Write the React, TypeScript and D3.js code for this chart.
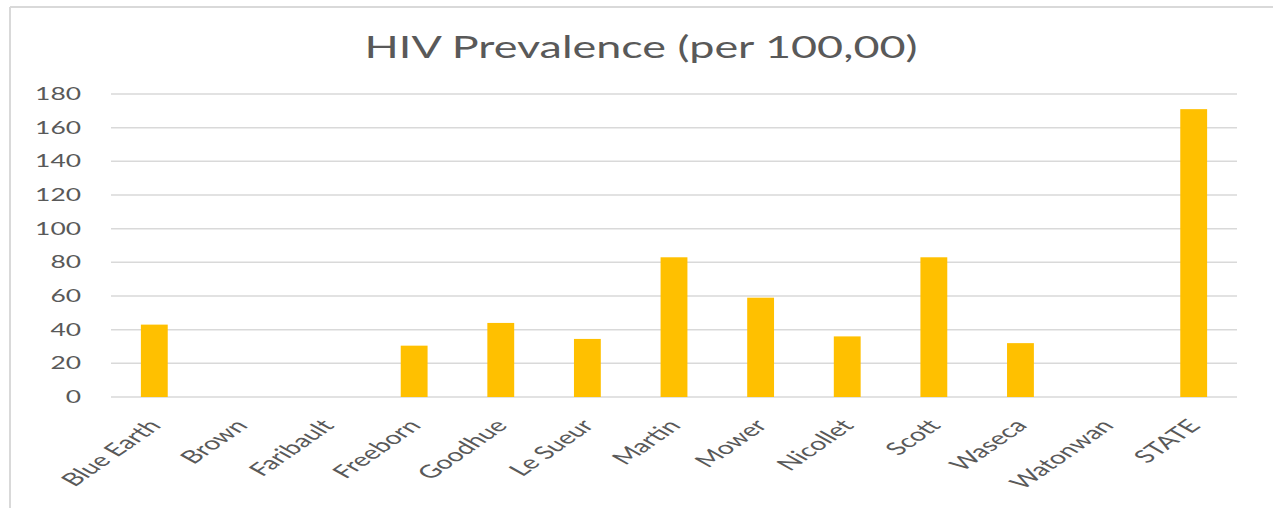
import React from 'react';
import * as d3 from 'd3';

// county names along the x axis
const counties = [
  "Blue Earth",
  "Brown",
  "Faribault",
  "Freeborn",
  "Goodhue",
  "Le Sueur",
  "Martin",
  "Mower",
  "Nicollet",
  "Scott",
  "Waseca",
  "Watonwan",
  "STATE",
];

// prevalence per 100,000
const prevalence = [43, 0, 0, 30.5, 44, 34.5, 83, 59, 36, 83, 32, 0, 171];

const yTicks = [0, 20, 40, 60, 80, 100, 120, 140, 160, 180];

const chartTitle = "HIV Prevalence (per 100,00)";

export default function App() {
  const width = 1273;
  const height = 508;
  const font = "Lato, 'Open Sans', sans-serif";
  const textColor = "#595959";
  const gridColor = "#d9d9d9";
  const barColor = "#FFC000";
  // the source picture is stretched sideways, so text gets the same stretch
  const stretch = 1.6;

  const x = d3
    .scaleBand<string>()
    .domain(counties)
    .range([111, 1237])
    .paddingInner(0.69)
    .paddingOuter(0.345);

  const y = d3.scaleLinear().domain([0, 180]).range([397, 94]);

  return (
    <svg
      width={width}
      height={height}
      style={{ position: 'absolute', left: 0, top: 0, background: '#fff' }}
    >
      <rect x={0} y={0} width={width} height={height} fill="#fff" />
      {/* chart frame, only left and top edges show */}
      <line x1={10} y1={7} x2={width} y2={7} stroke={gridColor} strokeWidth={2} />
      <line x1={10} y1={7} x2={10} y2={height} stroke={gridColor} strokeWidth={2} />

      <text
        x={641}
        y={58}
        textAnchor="middle"
        textLength={553}
        lengthAdjust="spacingAndGlyphs"
        fontFamily={font}
        fontSize={30}
        fill={textColor}
      >
        {chartTitle}
      </text>

      {/* gridlines + y labels */}
      {yTicks.map(t => (
        <g key={t}>
          <line
            x1={x.range()[0]}
            x2={x.range()[1]}
            y1={y(t)}
            y2={y(t)}
            stroke={gridColor}
            strokeWidth={1.5}
          />
          <text
            transform={`translate(81,${y(t)}) scale(${stretch},1)`}
            dy="0.36em"
            textAnchor="end"
            fontFamily={font}
            fontSize={16.5}
            fill={textColor}
          >
            {t}
          </text>
        </g>
      ))}

      {/* bars */}
      {counties.map((c, i) => (
        <rect
          key={c}
          x={x(c)}
          y={y(prevalence[i])}
          width={x.bandwidth()}
          height={y(0) - y(prevalence[i])}
          fill={barColor}
        />
      ))}

      {/* rotated category labels */}
      {counties.map(c => {
        const cx = (x(c) as number) + x.bandwidth() / 2;
        return (
          <text
            key={c}
            transform={`translate(${cx - 7},418) scale(${stretch},1) rotate(-48)`}
            dy="0.7em"
            textAnchor="end"
            fontFamily={font}
            fontSize={18}
            fill={textColor}
          >
            {c}
          </text>
        );
      })}
    </svg>
  );
}
